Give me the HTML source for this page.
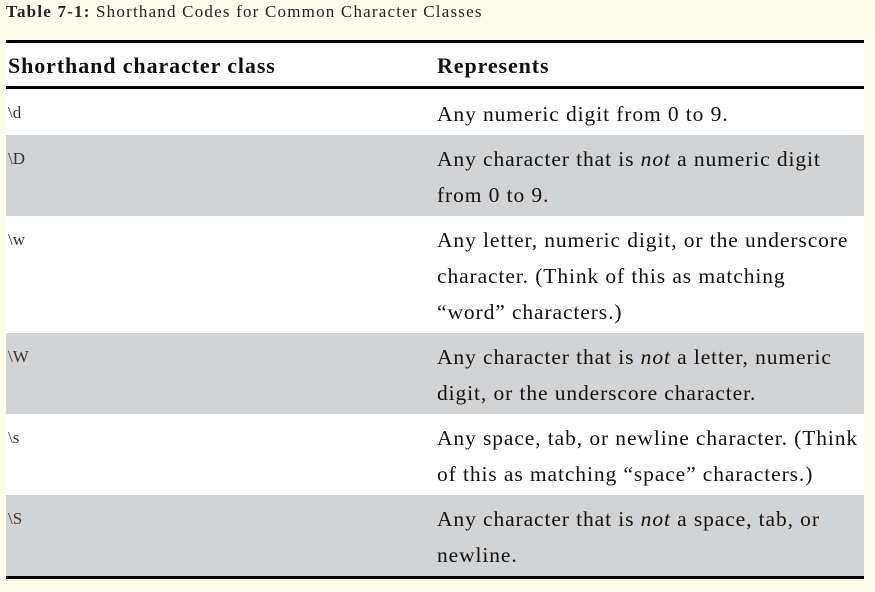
<!DOCTYPE html>
<html><head><meta charset="utf-8"><style>
body{margin:0;width:875px;height:592px;background:#fffcee;font-family:"Liberation Serif",serif;position:relative;overflow:hidden}
.cap{position:absolute;left:6px;top:1px;font-size:17px;color:#222;line-height:22px;letter-spacing:1.2px}
.tbl{position:absolute;left:6px;top:40px;width:858px;border-top:3px solid #000;border-bottom:3px solid #000}
.hd{height:43px;background:#fff;border-bottom:3px solid #000;position:relative}
.hd div{position:absolute;top:10px;font-weight:bold;font-size:22px;color:#111;letter-spacing:0.9px}
.row{position:relative;background:#fff}
.row.g{background:#d2d3d5}
.c1{position:absolute;left:2px;top:6px;font-size:17px;line-height:36px;color:#333}
.c2{position:absolute;left:431px;top:6px;font-size:21.5px;line-height:36px;color:#111;width:440px;letter-spacing:0.9px;white-space:nowrap}
</style></head><body>
<div class="cap"><b>Table 7-1:</b> Shorthand Codes for Common Character Classes</div>
<div class="tbl">
 <div class="hd">
  <div style="left:2px">Shorthand character class</div>
  <div style="left:431px">Represents</div>
 </div>
 <div class="row" style="height:46px"><div class="c1">\d</div><div class="c2" style="top:7px">Any numeric digit from 0 to 9.</div></div>
 <div class="row g" style="height:81px"><div class="c1">\D</div><div class="c2">Any character that is <i>not</i> a numeric digit<br>from 0 to 9.</div></div>
 <div class="row" style="height:117px"><div class="c1">\w</div><div class="c2">Any letter, numeric digit, or the underscore<br>character. (Think of this as matching<br>“word” characters.)</div></div>
 <div class="row g" style="height:81px"><div class="c1">\W</div><div class="c2">Any character that is <i>not</i> a letter, numeric<br>digit, or the underscore character.</div></div>
 <div class="row" style="height:81px"><div class="c1">\s</div><div class="c2">Any space, tab, or newline character. (Think<br>of this as matching “space” characters.)</div></div>
 <div class="row g" style="height:81px"><div class="c1">\S</div><div class="c2">Any character that is <i>not</i> a space, tab, or<br>newline.</div></div>
</div>
</body></html>
